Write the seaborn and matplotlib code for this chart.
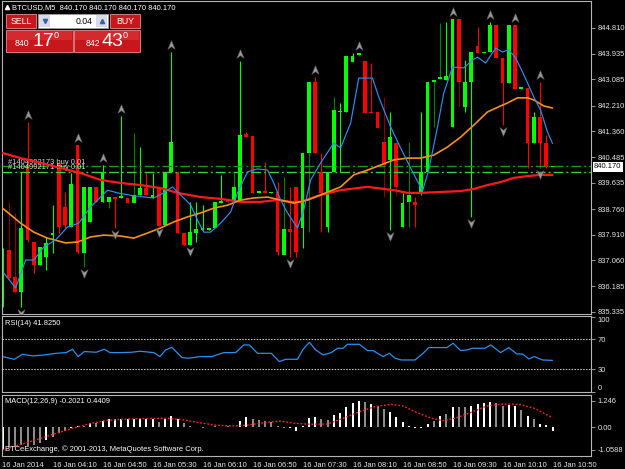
import numpy as np
import pandas as pd
import seaborn as sns
import matplotlib
matplotlib.use("Agg")
from matplotlib import pyplot as plt
from matplotlib import transforms as mtransforms
from matplotlib.path import Path
from matplotlib.patches import Rectangle

# ---------------------------------------------------------------
# data (16 Jan 2014, 03:30 .. 10:50)
# ---------------------------------------------------------------
opens = [835.83, 837.39, 836.49, 835.99, 840.23, 837.66, 836.89, 837.16, 837.89, 840.30,
         838.83, 838.16, 840.90, 837.29, 838.33, 839.50, 839.00, 839.00, 839.16, 839.13,
         839.13, 838.96, 839.23, 839.46, 839.13, 839.46, 838.23, 840.00, 840.00, 837.96,
         837.56, 837.96, 838.06, 838.06, 838.13, 838.96, 839.10, 839.06, 839.00, 841.26,
         841.20, 839.30, 839.36, 839.30, 839.33, 837.23, 838.10, 839.50, 838.13, 840.63,
         843.00, 840.00, 838.16, 840.00, 842.00, 842.00, 843.67, 843.90, 843.70, 842.00,
         842.00, 841.00, 840.40, 840.96, 838.16, 839.00, 839.00, 839.30, 840.00, 843.00,
         843.10, 843.07, 841.50, 845.10, 842.16, 843.00, 844.20, 843.97, 844.00, 844.90,
         843.80, 842.97, 844.90, 842.77, 842.80, 840.96, 841.83, 840.96, 840.17]
highs = [837.45, 839.00, 838.63, 840.00, 841.66, 837.66, 837.49, 837.83, 838.90, 840.30,
         839.33, 839.96, 840.90, 839.50, 839.50, 839.50, 840.23, 839.16, 839.16, 841.86,
         839.13, 841.30, 840.83, 839.96, 839.96, 839.46, 840.00, 844.00, 840.00, 837.96,
         839.00, 839.00, 838.90, 838.13, 839.00, 839.90, 839.10, 839.96, 843.70, 841.33,
         841.20, 839.36, 840.33, 839.33, 839.66, 839.83, 839.50, 839.50, 840.63, 843.00,
         843.17, 840.63, 840.00, 842.50, 842.30, 843.87, 843.97, 843.97, 843.70, 843.63,
         842.00, 842.50, 842.00, 841.00, 839.29, 841.00, 839.16, 842.00, 843.00, 843.07,
         844.97, 845.00, 845.10, 845.10, 843.73, 844.00, 844.83, 844.00, 845.00, 844.90,
         843.80, 844.90, 844.90, 842.83, 842.80, 842.00, 843.00, 841.23, 840.17]
lows = [835.49, 836.39, 835.96, 835.49, 837.66, 836.63, 836.89, 836.73, 837.29, 837.96,
        838.13, 838.16, 837.29, 836.83, 838.33, 839.00, 839.00, 838.80, 838.13, 839.13,
        838.96, 838.96, 839.23, 839.23, 839.13, 838.20, 838.23, 840.00, 837.96, 837.56,
        837.56, 837.66, 838.06, 838.06, 838.13, 838.96, 839.00, 839.06, 839.00, 841.16,
        839.30, 839.30, 839.30, 839.30, 837.23, 837.23, 837.16, 837.16, 837.46, 837.99,
        840.63, 837.99, 837.99, 840.00, 840.00, 842.00, 843.67, 843.90, 841.96, 841.96,
        841.46, 839.16, 838.06, 839.23, 838.16, 838.16, 838.16, 839.23, 840.00, 841.50,
        843.10, 843.07, 841.50, 842.16, 842.00, 838.50, 843.97, 843.97, 844.00, 843.80,
        841.56, 842.97, 842.77, 842.77, 840.13, 840.96, 840.13, 840.13, 840.17]
closes = [837.39, 836.46, 835.99, 838.13, 837.73, 836.89, 837.49, 837.63, 837.96, 838.16,
          838.23, 839.60, 837.33, 839.50, 839.50, 839.00, 840.00, 839.16, 839.10, 839.20,
          838.96, 839.23, 839.46, 839.23, 839.23, 838.20, 840.00, 841.00, 837.96, 837.56,
          837.99, 838.10, 838.13, 838.13, 839.00, 839.03, 839.00, 839.50, 841.23, 841.16,
          839.30, 839.36, 839.30, 839.33, 837.33, 838.10, 837.99, 837.33, 840.63, 843.00,
          840.63, 839.30, 840.00, 842.06, 842.03, 843.87, 843.87, 843.97, 841.96, 841.96,
          841.46, 840.23, 841.16, 839.50, 838.96, 839.23, 838.90, 840.00, 843.00, 843.07,
          843.17, 843.20, 845.10, 843.00, 843.00, 844.00, 843.97, 844.00, 844.90, 843.80,
          842.97, 844.90, 842.77, 842.83, 840.96, 841.83, 840.96, 840.17, 840.17]
dark_wick = [1, 2, 13, 17, 21, 37, 45, 49, 53, 61, 63, 65, 69, 70, 73, 82]

fractal_up = [4, 12, 16, 19, 27, 38, 50, 57, 72, 78, 82, 86]
fractal_down = [3, 13, 18, 25, 30, 46, 62, 75, 80, 86]

# moving averages (bar position, price) as traced on the chart
ma_fast_x = [0.2, 2.1, 3.7, 5.0, 6.6, 8.5, 10.4, 12.2, 14.1, 15.7, 16.8, 18.6, 21.0, 24.2, 25.8,
             27.2, 28.5, 30.1, 31.2, 32.2, 33.3, 34.9, 36.5, 37.6, 39.2, 40.8, 42.4, 43.4, 44.5,
             45.6, 47.2, 48.2, 49.3, 50.9, 53.0, 54.1, 55.7, 57.0, 59.2, 60.2, 62.1, 63.7, 65.3,
             67.2, 68.2, 69.6, 70.6, 72.0, 73.8, 75.2, 76.0, 77.3, 78.9, 80.0, 81.0, 82.1, 82.9,
             84.0, 85.0, 86.1, 87.2, 88.0]
ma_fast_y = [836.63, 836.13, 837.06, 837.06, 837.49, 837.73, 838.16, 838.29, 838.83, 839.16,
             839.39, 839.29, 839.20, 839.13, 839.30, 839.50, 839.23, 838.90, 838.39, 837.99,
             837.99, 838.29, 838.66, 839.30, 840.00, 840.10, 840.06, 839.63, 839.06, 838.63,
             838.13, 838.73, 839.73, 840.30, 840.96, 840.80, 841.63, 843.13, 843.13, 842.50,
             841.50, 840.80, 840.13, 839.36, 840.06, 841.50, 842.63, 843.50, 843.47, 843.73,
             843.83, 843.63, 844.13, 844.00, 844.07, 843.80, 843.47, 842.97, 842.50, 842.06,
             841.33, 840.95]
ma_mid_x = [0.0, 2.9, 5.0, 7.2, 10.1, 12.0, 14.1, 16.2, 18.9, 21.0, 23.2, 25.3, 27.4, 29.6,
            31.7, 33.8, 36.0, 38.1, 40.2, 42.4, 44.5, 46.6, 48.8, 50.9, 54.1, 56.2, 58.4, 60.5,
            62.6, 64.8, 66.9, 69.0, 71.2, 73.3, 75.4, 77.6, 79.7, 80.8, 82.4, 84.0, 85.0, 86.6, 88.0]
ma_mid_y = [838.79, 838.29, 837.99, 837.79, 837.63, 837.66, 837.83, 837.89, 837.86, 837.79,
            837.96, 838.13, 838.33, 838.50, 838.63, 838.79, 838.89, 839.06, 839.13, 839.16,
            839.06, 838.96, 839.06, 839.23, 839.50, 839.90, 840.06, 840.23, 840.40, 840.46,
            840.46, 840.56, 840.83, 841.16, 841.56, 842.00, 842.20, 842.30, 842.47, 842.47,
            842.40, 842.20, 842.13]
ma_slow_x = [0.0, 2.9, 6.1, 9.3, 12.5, 15.7, 18.9, 22.1, 25.3, 28.0, 31.7, 34.9, 38.1, 41.3,
             44.0, 46.1, 47.7, 50.9, 54.1, 58.4, 62.6, 64.8, 66.9, 70.1, 73.3, 75.4, 77.6, 79.7,
             81.8, 84.0, 86.1, 88.0]
ma_slow_y = [840.63, 840.46, 840.30, 840.13, 839.96, 839.73, 839.63, 839.56, 839.46, 839.30,
             839.16, 839.10, 839.00, 839.00, 839.06, 839.00, 839.00, 839.23, 839.39, 839.50,
             839.39, 839.30, 839.30, 839.33, 839.36, 839.43, 839.56, 839.66, 839.80, 839.86,
             839.90, 839.90]

order_prices = [840.19, 840.00]
order_labels = ["#1404992173 buy 0.01", "#1404992171 buy 0.01"]
last_price = 840.170
price_ticks = [844.810, 843.935, 843.085, 842.210, 841.360, 840.485,
               839.635, 838.760, 837.910, 837.060, 836.185, 835.335]

# RSI(14)
rsi_x = [0, 1.9, 3.2, 4.8, 6.7, 8.6, 10.2, 11.2, 12.1, 13.1, 15.0, 16.3, 17.2, 18.8, 20.7, 22.0,
         24.2, 25.2, 26.1, 27.1, 28.7, 29.7, 31.6, 33.5, 35.4, 37.3, 38.6, 39.5, 40.8, 43.0, 44.3,
         45.3, 47.2, 48.1, 49.1, 50.1, 51.3, 52.6, 53.6, 54.5, 55.2, 57.1, 58.4, 59.3, 60.9, 61.9,
         62.8, 63.8, 66.0, 67.3, 68.2, 71.1, 72.1, 73.3, 74.3, 75.2, 77.2, 78.1, 79.7, 81.0, 82.3,
         83.2, 84.2, 85.1, 86.4, 88.0]
rsi_y = [46.9, 43.3, 50.0, 47.8, 49.1, 51.3, 52.2, 56.7, 46.9, 53.6, 52.7, 56.7, 52.2, 52.2, 52.7,
         54.0, 52.2, 46.9, 55.8, 59.3, 45.6, 44.7, 46.9, 46.9, 52.2, 52.2, 62.4, 62.4, 51.3, 51.3,
         40.2, 43.3, 43.3, 56.7, 66.0, 55.8, 49.1, 52.2, 58.0, 58.0, 63.3, 63.3, 54.9, 54.9, 46.9,
         51.3, 44.7, 42.4, 42.4, 51.3, 58.9, 58.9, 64.7, 54.9, 55.8, 58.0, 58.0, 62.4, 52.2, 58.9,
         50.4, 50.4, 43.8, 46.9, 42.4, 41.8]

# MACD(12,26,9) histogram per bar, bright/grey flag, signal line
macd_hist = [-1.08, -0.93, -0.93, -0.86, -0.89, -0.85, -0.74, -0.61, -0.46, -0.30,
             -0.17, -0.05, 0.03, 0.05, 0.17, 0.20, 0.30, 0.36, 0.39, 0.39,
             0.36, 0.38, 0.38, 0.38, 0.38, 0.24, 0.36, 0.52, 0.39, 0.17,
             0.05, 0.01, -0.05, -0.01, 0.05, 0.02, 0.05, 0.02, 0.30, 0.46,
             0.36, 0.33, 0.30, 0.25, 0.05, -0.06, -0.05, -0.17, 0.05, 0.41,
             0.49, 0.36, 0.33, 0.57, 0.68, 0.96, 1.15, 1.246, 1.20, 1.10,
             0.99, 0.83, 0.71, 0.49, 0.24, 0.05, -0.03, -0.03, 0.14, 0.30,
             0.52, 0.63, 0.93, 0.93, 0.93, 0.99, 1.07, 1.11, 1.19, 1.15,
             0.99, 1.02, 0.99, 0.80, 0.52, 0.36, 0.14, 0.08, -0.2021]
macd_bright = [1, 0, 0, 0, 0, 0, 0, 1, 0, 0, 0, 1, 1, 0, 1, 0, 1, 1, 1, 1,
               1, 1, 1, 1, 1, 0, 1, 1, 1, 0, 0, 0, 0, 1, 0, 1, 0, 1, 1, 1,
               0, 0, 0, 0, 0, 0, 1, 1, 1, 1, 1, 0, 0, 1, 1, 1, 1, 1, 0, 1,
               0, 0, 1, 1, 1, 1, 1, 1, 1, 0, 1, 0, 1, 0, 0, 1, 1, 1, 1, 0,
               0, 1, 1, 0, 1, 0, 1, 1, 1]
signal_x = [0, 3.5, 6.1, 8.6, 11.2, 13.7, 16.3, 18.8, 21.4, 23.9, 26.5, 29.0, 31.6, 34.1, 36.7,
            39.2, 41.8, 44.3, 46.9, 49.4, 52.0, 54.5, 57.1, 59.6, 62.2, 64.1, 66.0, 68.6, 70.5,
            72.4, 74.9, 77.5, 80.0, 82.6, 85.1, 88.0]
signal_y = [-1.08, -0.77, -0.53, -0.30, -0.06, 0.14, 0.30, 0.36, 0.39, 0.41, 0.41, 0.33, 0.20,
            0.09, 0.05, 0.09, 0.20, 0.28, 0.17, 0.13, 0.14, 0.41, 0.72, 0.96, 1.07, 0.99, 0.72,
            0.41, 0.30, 0.41, 0.68, 0.99, 1.08, 1.07, 0.88, 0.4409]

time_tick_bars = [0, 8, 16, 24, 32, 40, 48, 56, 64, 72, 80, 88]
time_labels = ["16 Jan 2014", "16 Jan 04:10", "16 Jan 04:50", "16 Jan 05:30", "16 Jan 06:10",
               "16 Jan 06:50", "16 Jan 07:30", "16 Jan 08:10", "16 Jan 08:50", "16 Jan 09:30",
               "16 Jan 10:10", "16 Jan 10:50"]

# ---------------------------------------------------------------
# style
# ---------------------------------------------------------------
sns.set_theme(style="dark", rc={
    "axes.facecolor": "black", "figure.facecolor": "black",
    "axes.edgecolor": "#b4b4b4", "axes.linewidth": 0.8,
    "xtick.color": "#b4b4b4", "ytick.color": "#b4b4b4",
    "text.color": "white", "axes.grid": False,
})
plt.rcParams["font.family"] = ["Liberation Sans", "DejaVu Sans"]

BULL, BEAR = "#00ff00", "#ff0000"
DARK_BULL, DARK_BEAR = "#008000", "#8b0000"
FS = 5.4
W, H = 625, 469


def px_rect(l, t, r, b):
    return [l / W, 1 - b / H, (r - l) / W, (b - t) / H]


fig = plt.figure(figsize=(W / 100, H / 100), dpi=100)
ax = fig.add_axes(px_rect(2, 1, 591, 314))
ax_rsi = fig.add_axes(px_rect(2, 316, 591, 392))
ax_macd = fig.add_axes(px_rect(2, 394.5, 591, 455.5))
XLIM = (-0.08, 94.16)

df = pd.DataFrame({"o": opens, "h": highs, "l": lows, "c": closes})
df["bar"] = df.index
df["up"] = df.c >= df.o

# --- candles
wick_cols = []
for i, up in enumerate(df.up):
    if i in dark_wick:
        wick_cols.append(DARK_BULL if up else DARK_BEAR)
    else:
        wick_cols.append(BULL if up else BEAR)
ax.vlines(df.bar, df.l, df.h, colors=wick_cols, linewidth=0.8, zorder=2)
body = df.c - df.o
body = body.where(body.abs() >= 0.035, np.where(df.up, 0.035, -0.035))
ax.bar(df.bar, body, bottom=df.o, width=0.62,
       color=np.where(df.up, BULL, BEAR), linewidth=0, zorder=2)

# --- order lines
dashdot = (0, (7, 2.2, 1.4, 2.2))
for price, lab, col in zip(order_prices, order_labels, ["#12a012", "#36d236"]):
    ax.axhline(price, color=col, linewidth=1.0, linestyle=dashdot, zorder=3)
    ax.text(0.9, price + 0.02, lab, color="#d8d8d8", fontsize=FS, va="bottom", ha="left", zorder=3)

# --- moving averages
sns.lineplot(x=ma_slow_x, y=ma_slow_y, ax=ax, color="#ff1a1a", linewidth=1.6,
             sort=False, estimator=None, zorder=4)
sns.lineplot(x=ma_mid_x, y=ma_mid_y, ax=ax, color="#f7901e", linewidth=1.2,
             sort=False, estimator=None, zorder=4)
sns.lineplot(x=ma_fast_x, y=ma_fast_y, ax=ax, color="#2b8ff0", linewidth=0.85,
             sort=False, estimator=None, zorder=4)

# --- fractals
arrow = Path([(0, 1), (0.75, -0.8), (0, -0.25), (-0.75, -0.8), (0, 1)],
             [Path.MOVETO, Path.LINETO, Path.LINETO, Path.LINETO, Path.CLOSEPOLY])
arrow_dn = Path([(x, -y) for x, y in arrow.vertices], arrow.codes)
up_tr = mtransforms.offset_copy(ax.transData, fig=fig, x=0, y=7, units="dots")
dn_tr = mtransforms.offset_copy(ax.transData, fig=fig, x=0, y=-6, units="dots")
ax.plot(fractal_up, df.h[fractal_up], linestyle="none", marker=arrow, markersize=7,
        markerfacecolor="#9a9a9a", markeredgecolor="#5a5a5a", markeredgewidth=0.4,
        transform=up_tr, zorder=5)
ax.plot(fractal_down, df.l[fractal_down], linestyle="none", marker=arrow_dn, markersize=7,
        markerfacecolor="#9a9a9a", markeredgecolor="#5a5a5a", markeredgewidth=0.4,
        transform=dn_tr, zorder=5)

ax.set_xlim(*XLIM)
ax.set_ylim(835.259, 845.701)
ax.set_xticks([])
ax.yaxis.tick_right()
ax.set_yticks(price_ticks)
ax.set_yticklabels([f"{v:.3f}" for v in price_ticks])
ax.annotate(f"{last_price:.3f}", xy=(1, last_price), xycoords=("axes fraction", "data"),
            xytext=(3, 0), textcoords="offset pixels", va="center", ha="left",
            fontsize=FS, color="black", annotation_clip=False,
            bbox=dict(boxstyle="square,pad=0.18", fc="white", ec="none"))

# --- RSI
sns.lineplot(x=rsi_x, y=rsi_y, ax=ax_rsi, color="#2b8ff0", linewidth=0.9,
             sort=False, estimator=None)
for lvl in (70, 30):
    ax_rsi.axhline(lvl, color="#d0d0d0", linewidth=0.8, linestyle=(0, (1.3, 1.3)))
ax_rsi.set_xlim(*XLIM)
ax_rsi.set_ylim(-0.3, 101)
ax_rsi.set_xticks([])
ax_rsi.yaxis.tick_right()
ax_rsi.set_yticks([100, 70, 30, 0])
ax_rsi.set_yticklabels(["100", "70", "30", "0"])
ax_rsi.get_yticklabels()[0].set_va("top")
ax_rsi.get_yticklabels()[3].set_va("bottom")
ax_rsi.text(0.005, 0.905, f"RSI(14) {rsi_y[-1] + 0.025:.4f}", transform=ax_rsi.transAxes,
            fontsize=FS, color="white", va="center")

# --- MACD
ax_macd.bar(df.bar, macd_hist, width=0.32, linewidth=0,
            color=["#ffffff" if b else "#8c8c8c" for b in macd_bright])
sns.lineplot(x=signal_x, y=signal_y, ax=ax_macd, color="#ff2020", linewidth=1.0,
             linestyle=(0, (1.3, 1.3)), sort=False, estimator=None)
ax_macd.set_xlim(*XLIM)
ax_macd.set_ylim(-1.34, 1.53)
ax_macd.yaxis.tick_right()
ax_macd.set_yticks([1.246, 0.0, -1.0588])
ax_macd.set_yticklabels(["1.246", "0.00", "-1.0588"])
ax_macd.text(0.005, 0.893, f"MACD(12,26,9) {macd_hist[-1]:.4f} {signal_y[-1]:.4f}",
             transform=ax_macd.transAxes, fontsize=FS, color="white", va="center")
ax_macd.text(0.005, 0.107, "BTCeExchange, \u00a9 2001-2013, MetaQuotes Software Corp.",
             transform=ax_macd.transAxes, fontsize=FS, color="white", va="center")
ax_macd.set_xticks(time_tick_bars)
ax_macd.set_xticklabels(time_labels)
shift = mtransforms.ScaledTranslation(1 / 100, 0, fig.dpi_scale_trans)
for lab in ax_macd.get_xticklabels():
    lab.set_ha("left")
    lab.set_transform(lab.get_transform() + shift)

for a in (ax, ax_rsi, ax_macd):
    a.set_xlabel("")
    a.set_ylabel("")
    a.tick_params(axis="both", length=3, width=0.6, pad=1.5, labelsize=FS,
                  labelcolor="#e6e6e6", direction="out")
    for s in a.spines.values():
        s.set_color("#b4b4b4")
        s.set_linewidth(0.8)

# --- terminal overlay: title + one-click trading panel (pixel coordinates)
ov = fig.add_axes([0, 0, 1, 1], zorder=10)
ov.set_xlim(0, W)
ov.set_ylim(H, 0)
ov.axis("off")
ov.plot([6.5], [7.5], marker="^", markersize=3, color="white")
ov.text(12.5, 7.5, f"BTCUSD,M5  {last_price:.3f} {last_price:.3f} {last_price:.3f} {last_price:.3f}",
        fontsize=FS, color="white", va="center", ha="left")

RED, RED_EDGE = "#c8171c", "#e98a8c"
for x0, w, lab in [(6, 30, "SELL"), (110, 30, "BUY")]:
    ov.add_patch(Rectangle((x0, 14.5), w, 14, fc=RED, ec=RED_EDGE, lw=0.6))
    ov.text(x0 + w / 2, 21.5, lab, fontsize=6.3, color="white", ha="center", va="center")
ov.add_patch(Rectangle((38, 14.5), 70, 14, fc="white", ec="#9aa0aa", lw=0.6))
ov.add_patch(Rectangle((39, 15.5), 11, 12, fc="#d6dbe6", ec="none"))
ov.add_patch(Rectangle((96, 15.5), 11, 12, fc="#d6dbe6", ec="none"))
ov.plot([44.5], [21.5], marker="v", markersize=3, color="#3a5fa8")
ov.plot([101.5], [21.5], marker="^", markersize=3, color="#3a5fa8")
ov.text(93, 21.5, "0.04", fontsize=6.3, color="black", ha="right", va="center")

for x0, w, big_lead, big, sup_x in [(6, 67, (22, "840"), (43, "17"), 56.5),
                                    (74, 66, (93, "842"), (112.5, "43"), 125)]:
    ov.add_patch(Rectangle((x0, 30), w, 22, fc=RED, ec=RED_EDGE, lw=0.6))
    ov.add_patch(Rectangle((x0 + 0.6, 30.6), w - 1.2, 9, fc="#d42a2e", ec="none"))
    ov.text(big_lead[0], 44, big_lead[1], fontsize=6.3, color="white", ha="center", va="center")
    ov.text(big[0], 41, big[1], fontsize=14, color="white", ha="center", va="center")
    ov.text(sup_x, 36, "0", fontsize=6.5, color="white", ha="center", va="center")

fig.savefig("out.png", dpi=100, facecolor="black")
plt.close(fig)
